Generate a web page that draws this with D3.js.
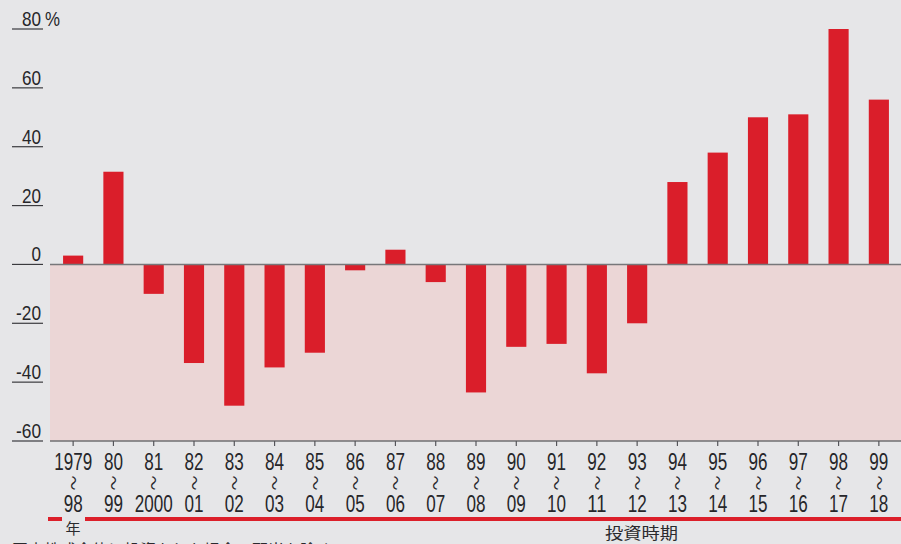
<!DOCTYPE html>
<html>
<head>
<meta charset="utf-8">
<script src="https://cdn.jsdelivr.net/npm/d3@7"></script>
<style>
	html, body { margin: 0; padding: 0; background: #e6e6e8; }
	svg { display: block; }
	.num { font-family: 'Liberation Sans', Arial, sans-serif; fill: #26262a; }
	.jp { font-family: 'Noto Sans CJK JP', sans-serif; fill: #2a2a2e; }
</style>
</head>
<body>
<div id="chart"></div>
<script>
// 投資期間 (start year / end year)
const startYears = ['1979', '80', '81', '82', '83', '84', '85', '86', '87', '88', '89', '90', '91', '92', '93', '94', '95', '96', '97', '98', '99'];
const endYears = ['98', '99', '2000', '01', '02', '03', '04', '05', '06', '07', '08', '09', '10', '11', '12', '13', '14', '15', '16', '17', '18'];
// 騰落率 (%)
const returns = [3, 31.5, -10, -33.5, -48, -35, -30, -2, 5, -6, -43.5, -28, -27, -37, -20, 28, 38, 50, 51, 80, 56];
const yTicks = [80, 60, 40, 20, 0, -20, -40, -60];

const width = 901,
	height = 544;

// narrow digits like the print
const digitW = 9.5;

const svg = d3.select('#chart').append('svg')
	.attr('width', width)
	.attr('height', height);

let x = d3.scaleBand()
	.domain(startYears)
	.range([53, 899])
	.paddingInner(0.5)
	.paddingOuter(0.25);

let y = d3.scaleLinear()
	.domain([-60, 80])
	.range([441, 29]);

const plotLeft = 50;
const cx = (d) => x(d) + x.bandwidth() / 2;

// pink area below zero
svg.append('rect')
	.attr('x', plotLeft)
	.attr('y', y(0))
	.attr('width', width - plotLeft)
	.attr('height', y(-60) - y(0))
	.attr('fill', '#ebd6d6');

// bars
svg.selectAll('.bar')
	.data(returns)
	.enter()
	.append('rect')
	.attr('class', 'bar')
	.attr('x', (d, i) => x(startYears[i]))
	.attr('width', x.bandwidth())
	.attr('y', (d) => y(Math.max(0, d)))
	.attr('height', (d) => Math.abs(y(d) - y(0)))
	.attr('fill', '#da1e2a');

// zero line and bottom line
svg.append('line')
	.attr('x1', plotLeft).attr('x2', width)
	.attr('y1', y(0)).attr('y2', y(0))
	.attr('stroke', '#77777a').attr('stroke-width', 1.5);

svg.append('line')
	.attr('x1', plotLeft).attr('x2', width)
	.attr('y1', y(-60)).attr('y2', y(-60))
	.attr('stroke', '#6f6f72').attr('stroke-width', 1.5);

// y labels with underline
let yAxis = svg.append('g').attr('class', 'y-labels');

yAxis.selectAll('line')
	.data(yTicks)
	.enter()
	.append('line')
	.attr('x1', 12).attr('x2', 43)
	.attr('y1', (d) => y(d)).attr('y2', (d) => y(d))
	.attr('stroke', '#3a3a3e').attr('stroke-width', 1.2);

yAxis.selectAll('text')
	.data(yTicks)
	.enter()
	.append('text')
	.attr('class', 'num')
	.attr('x', 41)
	.attr('y', (d) => y(d) - 3)
	.attr('text-anchor', 'end')
	.attr('font-size', 21)
	.attr('textLength', (d) => String(d).replace('-', '').length * digitW + (d < 0 ? 6 : 0))
	.attr('lengthAdjust', 'spacingAndGlyphs')
	.text((d) => d);

svg.append('text')
	.attr('class', 'num')
	.attr('x', 45)
	.attr('y', y(80) - 3)
	.attr('font-size', 20)
	.attr('textLength', 15)
	.attr('lengthAdjust', 'spacingAndGlyphs')
	.text('%');

// x ticks and labels
let xAxis = svg.append('g').attr('class', 'x-labels');

xAxis.selectAll('line')
	.data(startYears)
	.enter()
	.append('line')
	.attr('x1', cx)
	.attr('x2', cx)
	.attr('y1', y(-60)).attr('y2', y(-60) + 5)
	.attr('stroke', '#55555a').attr('stroke-width', 1.2);

xAxis.selectAll('.top')
	.data(startYears)
	.enter()
	.append('text')
	.attr('class', 'num top')
	.attr('x', cx)
	.attr('y', 470)
	.attr('text-anchor', 'middle')
	.attr('font-size', 23)
	.attr('textLength', (d) => d.length * digitW)
	.attr('lengthAdjust', 'spacingAndGlyphs')
	.text((d) => d);

xAxis.selectAll('.wave')
	.data(startYears)
	.enter()
	.append('text')
	.attr('class', 'jp wave')
	.attr('transform', (d) => `translate(${cx(d)},483) rotate(90)`)
	.attr('text-anchor', 'middle')
	.attr('dy', '0.35em')
	.attr('font-size', 15)
	.text('〜');

xAxis.selectAll('.bottom')
	.data(endYears)
	.enter()
	.append('text')
	.attr('class', 'num bottom')
	.attr('x', (d, i) => cx(startYears[i]))
	.attr('y', 512)
	.attr('text-anchor', 'middle')
	.attr('font-size', 23)
	.attr('textLength', (d) => d.length * digitW)
	.attr('lengthAdjust', 'spacingAndGlyphs')
	.text((d) => d);

// red rule under the axis
svg.append('rect')
	.attr('x', 48).attr('y', 517)
	.attr('width', 14).attr('height', 4)
	.attr('fill', '#dc1f2a');

svg.append('rect')
	.attr('x', 85).attr('y', 517)
	.attr('width', width - 85).attr('height', 4)
	.attr('fill', '#dc1f2a');

svg.append('text')
	.attr('class', 'jp')
	.attr('x', 73)
	.attr('y', 534)
	.attr('text-anchor', 'middle')
	.attr('font-size', 15)
	.text('年');

svg.append('text')
	.attr('class', 'jp')
	.attr('x', 605)
	.attr('y', 539)
	.attr('font-size', 16)
	.attr('textLength', 73)
	.attr('lengthAdjust', 'spacingAndGlyphs')
	.text('投資時期');

// note line cut off at the bottom edge
svg.append('text')
	.attr('class', 'jp')
	.attr('x', 12)
	.attr('y', 556)
	.attr('font-size', 16)
	.text('国内株式全体に投資をした場合。配当を除く');
</script>
</body>
</html>
